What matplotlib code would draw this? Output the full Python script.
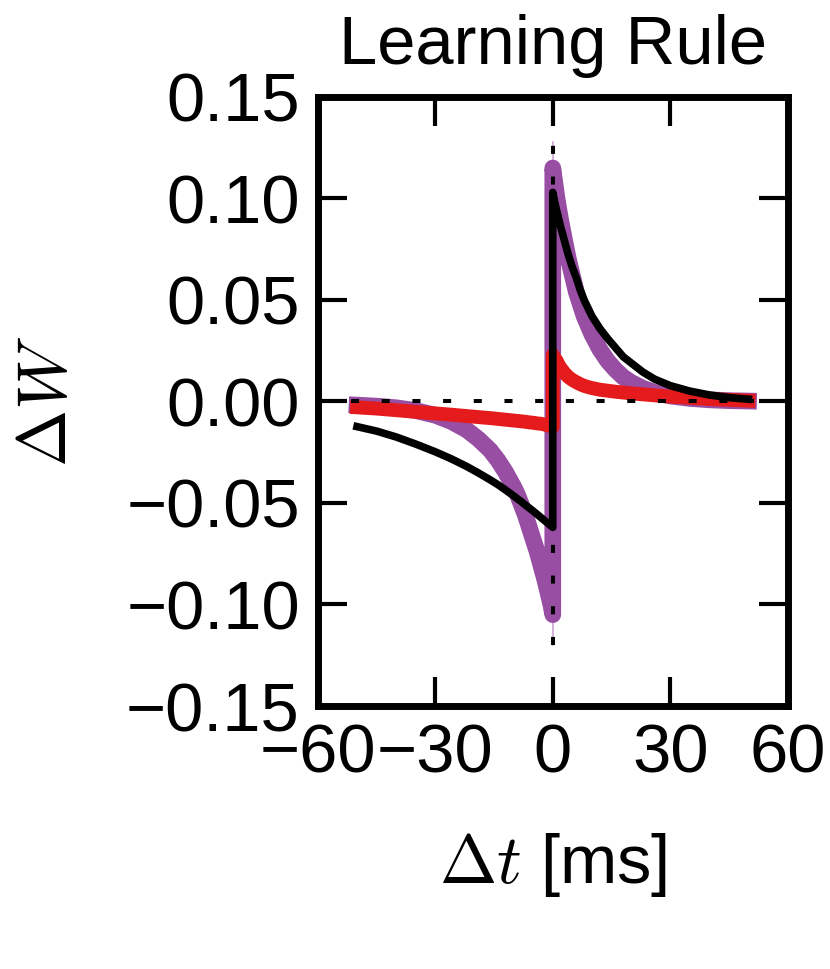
import numpy as np
import matplotlib
matplotlib.use("Agg")
import matplotlib.pyplot as plt

plt.rcParams['font.family'] = ['Liberation Sans', 'DejaVu Sans']
plt.rcParams['mathtext.fontset'] = 'cm'
plt.rcParams['lines.scale_dashes'] = False

# Delta t samples [ms]
dt_left = [-50, -45, -40, -35, -30, -26, -22, -19, -16, -14, -12, -10, -9, -8,
           -7, -6, -5, -4, -3, -2, -1.5, -1, -0.5, 0]
dt_right = [0, 0.5, 1, 1.5, 2, 3, 4, 5, 6, 7, 8, 9, 10, 12, 14, 16, 18, 20,
            23, 26, 30, 35, 40, 45, 50]

# purple (thick)
purple_left = [-0.0018, -0.0023, -0.0031, -0.0045, -0.0068, -0.0098, -0.014, -0.0185,
               -0.024, -0.029, -0.035, -0.042, -0.046, -0.051, -0.056, -0.062,
               -0.068, -0.074, -0.081, -0.088, -0.092, -0.096, -0.100, -0.105]
purple_right = [0.115, 0.108, 0.101, 0.095, 0.0895, 0.0795, 0.070, 0.062, 0.054,
                0.048, 0.042, 0.0375, 0.033, 0.0257, 0.020, 0.0156, 0.012, 0.0094,
                0.0065, 0.0045, 0.0027, 0.0015, 0.0008, 0.0004, 0.0002]

# red
red_left = [-0.0029, -0.0035, -0.0043, -0.0051, -0.0059, -0.0065, -0.0072, -0.0077,
            -0.0082, -0.0086, -0.009, -0.0094, -0.0096, -0.0098, -0.010, -0.0103,
            -0.0105, -0.0108, -0.011, -0.0114, -0.0117, -0.0119, -0.0122, -0.0125]
red_right = [0.0228, 0.0213, 0.020, 0.018, 0.0165, 0.014, 0.012, 0.0106, 0.0095,
             0.0085, 0.0077, 0.0071, 0.0066, 0.0058, 0.0053, 0.0048, 0.0044, 0.004,
             0.0035, 0.003, 0.0024, 0.0018, 0.0012, 0.0008, 0.0004]

# black
black_left = [-0.0124, -0.0146, -0.0175, -0.021, -0.0248, -0.0282, -0.032, -0.0352,
              -0.0386, -0.041, -0.0437, -0.0465, -0.048, -0.0494, -0.051, -0.0525,
              -0.054, -0.0556, -0.0572, -0.0588, -0.0596, -0.0604, -0.0612, -0.062]
black_right = [0.103, 0.098, 0.094, 0.090, 0.086, 0.079, 0.072, 0.066, 0.061,
               0.055, 0.050, 0.046, 0.042, 0.036, 0.031, 0.0265, 0.022, 0.019,
               0.0145, 0.011, 0.0078, 0.0051, 0.0032, 0.0019, 0.0011]

xticks = [-60, -30, 0, 30, 60]
yticks = [-0.15, -0.10, -0.05, 0.00, 0.05, 0.10, 0.15]

fs = 49.5
fig = plt.figure(figsize=(8.3, 9.69), dpi=100)
ax = fig.add_axes([0.383, 0.2714, 0.566, 0.6286])

dt = dt_left + dt_right
ax.plot([0, 0], [-0.12, 0.128], color='#984ea3', lw=1.2, alpha=0.5, zorder=1)
ax.plot(dt, purple_left + purple_right, color='#984ea3', lw=12, zorder=2)
ax.plot(dt, red_left + red_right, color='#e41a1c', lw=10, zorder=3)
ax.plot(dt, black_left + black_right, color='black', lw=5.5, zorder=4)

# zero guides
ax.plot([-51.5, 51.5], [0, 0], color='black', lw=2.9, dashes=(5.8, 16.3), zorder=5)
ax.plot([0, 0], [-0.12, 0.127], color='black', lw=2.9, dashes=(5.8, 16.3), zorder=5)

ax.set_xlim(-60, 60)
ax.set_ylim(-0.15, 0.15)
ax.set_xticks(xticks)
ax.set_yticks(yticks)
ax.set_xticklabels([str(v).replace('-', '\u2212') for v in xticks])
ax.set_yticklabels([f'{v:.2f}'.replace('-', '\u2212') for v in yticks])
ax.tick_params(direction='in', length=21, width=3, labelsize=fs,
               top=True, right=True)
ax.tick_params(axis='x', pad=12)
ax.tick_params(axis='y', pad=13)
for s in ax.spines.values():
    s.set_linewidth(5)

ax.set_title('Learning Rule', fontsize=fs, pad=24)
ax.set_xlabel(r'$\Delta t$ [ms]', fontsize=fs)
ax.set_ylabel(r'$\Delta W$', fontsize=fs)
ax.xaxis.set_label_coords(0.5, -0.205)
ax.yaxis.set_label_coords(-0.506, 0.5)

fig.savefig('out.png', dpi=100)
